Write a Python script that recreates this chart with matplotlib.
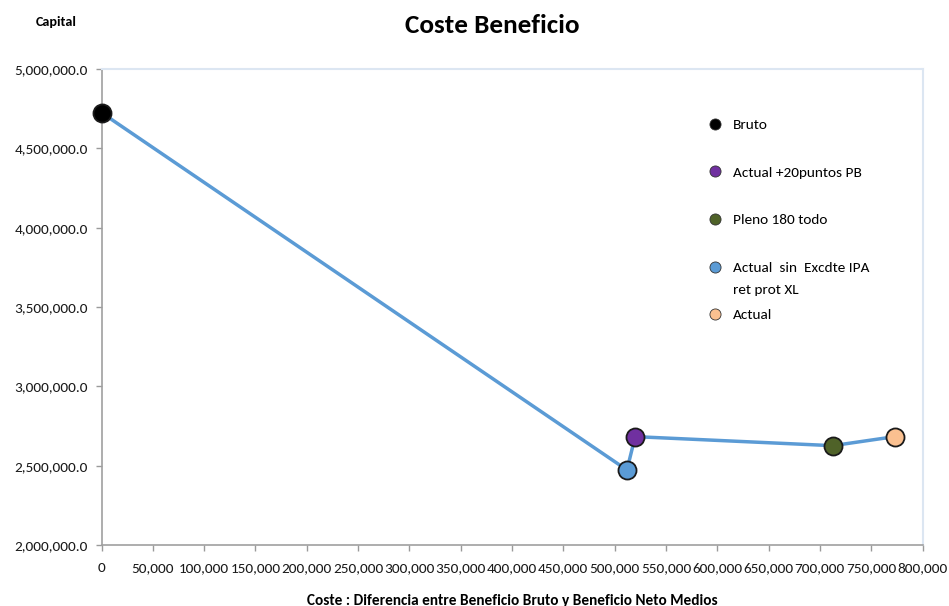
import matplotlib
matplotlib.use("Agg")
import matplotlib.pyplot as plt
from matplotlib.lines import Line2D
from matplotlib.ticker import FuncFormatter, MultipleLocator

plt.rcParams['font.family'] = ['Carlito', 'DejaVu Sans']

# ---- data ----
names = ["Bruto", "Actual  sin  Excdte IPA", "Actual +20puntos PB", "Pleno 180 todo", "Actual"]
coste = [0, 512000, 520000, 712500, 773000]
capital = [4725000, 2473000, 2683000, 2626000, 2683000]
colors = ["#000000", "#5B9BD5", "#7030A0", "#4F6228", "#FAC090"]
legend_order = [0, 2, 3, 1, 4]
legend_extra = "ret prot XL"   # second line of the 4th legend entry

x_ticks_max = 800000
y_min, y_max = 2000000, 5000000

fig = plt.figure(figsize=(9.49, 6.06), dpi=100)
ax = fig.add_axes([101.5/949, 61/606, 821/949, 476/606])

ax.plot(coste, capital, color="#5B9BD5", lw=2.5, zorder=2, solid_capstyle='round')
for xv, yv, c in zip(coste, capital, colors):
    ax.plot([xv], [yv], marker='o', ms=13, mfc=c, mec="#1a1a1a", mew=1.3,
            linestyle='none', zorder=3, clip_on=False)

ax.set_xlim(0, x_ticks_max)
ax.set_ylim(y_min, y_max)
ax.xaxis.set_major_locator(MultipleLocator(50000))
ax.yaxis.set_major_locator(MultipleLocator(500000))
ax.xaxis.set_major_formatter(FuncFormatter(lambda v, p: f"{v:,.0f}"))
ax.yaxis.set_major_formatter(FuncFormatter(lambda v, p: f"{v:,.1f}"))

ax.tick_params(axis='both', direction='out', length=4, width=1, color="#9a9a9a",
               labelsize=11, labelcolor="#1a1a1a")
ax.tick_params(axis='x', pad=8.5)
ax.tick_params(axis='y', pad=6)

for s in ['left', 'bottom']:
    ax.spines[s].set_color("#a0a0a0")
    ax.spines[s].set_linewidth(1.2)
for s in ['top', 'right']:
    ax.spines[s].set_color("#DCE6F2")
    ax.spines[s].set_linewidth(1.5)

ax.set_xlabel("Coste : Diferencia entre Beneficio Bruto y Beneficio Neto Medios",
              fontsize=11, fontweight='bold', labelpad=14)

fig.text(492/949, 1 - 33/606, "Coste Beneficio", ha='center', va='baseline',
         fontsize=19.5, fontweight='bold')
fig.text(56.5/949, 1 - 26/606, "Capital", ha='center', va='baseline',
         fontsize=10.2, fontweight='bold')

handles = [Line2D([], [], marker='o', linestyle='none', ms=8, mfc=colors[i],
                  mec="#333333", mew=0.6) for i in legend_order]
labels = [names[i] for i in legend_order]
leg = ax.legend(handles, labels, loc='upper left', bbox_to_anchor=(0.7398, 0.8958),
                frameon=False, fontsize=11, labelspacing=2.28, handlelength=0.8,
                handletextpad=0.78, borderpad=0, borderaxespad=0)
t4 = leg.get_texts()[3]
ax.annotate(legend_extra, xy=(0, 0), xycoords=t4, xytext=(0, -7.5),
            textcoords='offset points', ha='left', va='top', fontsize=11, zorder=6)

fig.savefig("out.png", dpi=100)
